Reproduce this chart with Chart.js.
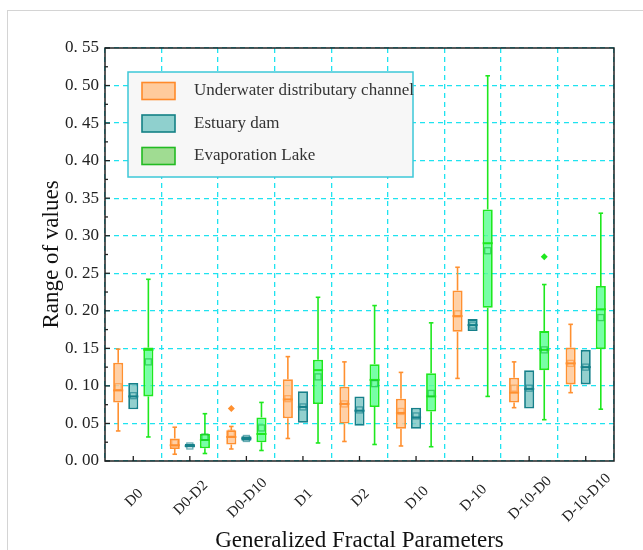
<!DOCTYPE html>
<html>
<head>
<meta charset="utf-8">
<script src="https://cdn.jsdelivr.net/npm/chart.js@4/dist/chart.umd.min.js"></script>
<style>
  html, body { margin: 0; padding: 0; background: #fff; }
  #wrap { position: relative; width: 643px; height: 550px; }
  #edge { position: absolute; left: 7px; top: 10px; right: 0; bottom: 0;
          border-left: 1.5px solid #d4d4d4; border-top: 1.5px solid #d4d4d4; }
  canvas { position: absolute; left: 0; top: 0; }
</style>
</head>
<body>
<div id="wrap">
  <div id="edge"></div>
  <canvas id="chart" width="643" height="550"></canvas>
</div>
<script>
// ── Data ─────────────────────────────────────────────────────────────────────

const CATEGORIES = ['D0', 'D0-D2', 'D0-D10', 'D1', 'D2', 'D10', 'D-10', 'D-10-D0', 'D-10-D10'];
const SERIES_NAMES = ['Underwater distributary channel', 'Estuary dam', 'Evaporation Lake'];
const Y_TICKS = [0, 0.05, 0.10, 0.15, 0.20, 0.25, 0.30, 0.35, 0.40, 0.45, 0.50, 0.55];

// Underwater distributary channel
const udcMin    = [0.040, 0.009, 0.016, 0.030, 0.026, 0.020, 0.110, 0.071, 0.091];
const udcQ1     = [0.078, 0.016, 0.022, 0.057, 0.050, 0.043, 0.172, 0.078, 0.102];
const udcMedian = [0.094, 0.021, 0.032, 0.082, 0.076, 0.064, 0.193, 0.091, 0.130];
const udcMean   = [0.099, 0.024, 0.037, 0.083, 0.076, 0.066, 0.196, 0.097, 0.130];
const udcQ3     = [0.131, 0.030, 0.041, 0.109, 0.099, 0.083, 0.227, 0.111, 0.151];
const udcMax    = [0.149, 0.045, 0.046, 0.139, 0.132, 0.118, 0.258, 0.132, 0.182];
const udcOut    = [[], [], [0.070], [], [], [], [], [], []];

// Estuary dam
const edMin    = [0.069, 0.018, 0.027, 0.051, 0.047, 0.043, 0.173, 0.070, 0.102];
const edQ1     = [0.069, 0.018, 0.027, 0.051, 0.047, 0.043, 0.173, 0.070, 0.102];
const edMedian = [0.086, 0.020, 0.030, 0.072, 0.067, 0.058, 0.181, 0.096, 0.125];
const edMean   = [0.087, 0.020, 0.030, 0.072, 0.068, 0.060, 0.181, 0.097, 0.125];
const edQ3     = [0.104, 0.023, 0.033, 0.093, 0.086, 0.071, 0.189, 0.121, 0.148];
const edMax    = [0.104, 0.023, 0.033, 0.093, 0.086, 0.071, 0.189, 0.121, 0.148];
const edOut    = [[], [], [], [], [], [], [], [], []];

// Evaporation Lake
const elMin    = [0.032, 0.010, 0.014, 0.024, 0.022, 0.019, 0.086, 0.055, 0.069];
const elQ1     = [0.086, 0.017, 0.025, 0.076, 0.072, 0.066, 0.204, 0.121, 0.149];
const elMedian = [0.148, 0.028, 0.036, 0.121, 0.108, 0.086, 0.290, 0.148, 0.202];
const elMean   = [0.132, 0.032, 0.044, 0.112, 0.103, 0.090, 0.280, 0.148, 0.191];
const elQ3     = [0.151, 0.036, 0.058, 0.135, 0.129, 0.117, 0.335, 0.173, 0.233];
const elMax    = [0.242, 0.063, 0.078, 0.218, 0.207, 0.184, 0.513, 0.235, 0.330];
const elOut    = [[], [], [], [], [], [], [], [0.272], []];

// ── Styles ───────────────────────────────────────────────────────────────────

const SERIF = '"Liberation Serif", "DejaVu Serif", serif';
const GRID_COLOR = '#1fe3f0';

const STYLES = [
  { fill: 'rgba(255,200,150,0.85)', stroke: '#ff9030', mean: 'rgba(255,144,48,0.6)',
    legendFill: '#ffcb9c', legendStroke: '#ff8a2a' },
  { fill: 'rgba(128,200,198,0.85)', stroke: '#16808a', mean: 'rgba(22,128,138,0.65)',
    legendFill: '#8fd0ce', legendStroke: '#138085' },
  { fill: 'rgba(95,255,150,0.85)', stroke: '#1ee81e', mean: 'rgba(20,190,60,0.65)',
    legendFill: '#a0dc92', legendStroke: '#22bb22' },
];

const STATS = [
  { min: udcMin, q1: udcQ1, median: udcMedian, mean: udcMean, q3: udcQ3, max: udcMax, out: udcOut },
  { min: edMin, q1: edQ1, median: edMedian, mean: edMean, q3: edQ3, max: edMax, out: edOut },
  { min: elMin, q1: elQ1, median: elMedian, mean: elMean, q3: elQ3, max: elMax, out: elOut },
];

// ── Plugins ──────────────────────────────────────────────────────────────────

// whiskers, medians, means, outliers on top of the floating bars
const boxExtras = {
  id: 'boxExtras',
  afterDatasetsDraw(chart) {
    const ctx = chart.ctx;
    const y = chart.scales.y;
    ctx.save();
    STATS.forEach((s, d) => {
      const st = STYLES[d];
      const meta = chart.getDatasetMeta(d);
      meta.data.forEach((bar, i) => {
        const x = bar.x;
        const w = bar.width;
        const cap = w * 0.45;
        ctx.strokeStyle = st.stroke;
        ctx.lineWidth = 1.6;
        // whiskers
        [[s.q3[i], s.max[i]], [s.q1[i], s.min[i]]].forEach(([a, b]) => {
          if (Math.abs(a - b) < 1e-9) return;
          ctx.beginPath();
          ctx.moveTo(x, y.getPixelForValue(a));
          ctx.lineTo(x, y.getPixelForValue(b));
          ctx.stroke();
          ctx.beginPath();
          ctx.moveTo(x - cap / 2, y.getPixelForValue(b));
          ctx.lineTo(x + cap / 2, y.getPixelForValue(b));
          ctx.stroke();
        });
        // median
        const my = y.getPixelForValue(s.median[i]);
        ctx.lineWidth = 2;
        ctx.beginPath();
        ctx.moveTo(x - w / 2, my);
        ctx.lineTo(x + w / 2, my);
        ctx.stroke();
        // mean square
        const ay = y.getPixelForValue(s.mean[i]);
        ctx.strokeStyle = st.mean;
        ctx.lineWidth = 1.3;
        ctx.strokeRect(x - 3, ay - 3, 6, 6);
        // outliers
        ctx.fillStyle = st.stroke;
        s.out[i].forEach(v => {
          const oy = y.getPixelForValue(v);
          ctx.beginPath();
          ctx.moveTo(x, oy - 3.5);
          ctx.lineTo(x + 3.5, oy);
          ctx.lineTo(x, oy + 3.5);
          ctx.lineTo(x - 3.5, oy);
          ctx.closePath();
          ctx.fill();
        });
      });
    });
    ctx.restore();
  },
};

// black frame, inward ticks, centred rotated category labels and the boxed legend
const frameAndLegend = {
  id: 'frameAndLegend',
  afterDraw(chart) {
    const ctx = chart.ctx;
    const { left, right, top, bottom } = chart.chartArea;
    const y = chart.scales.y;
    const x = chart.scales.x;
    ctx.save();

    ctx.strokeStyle = '#222';
    ctx.lineWidth = 1.5;
    ctx.strokeRect(left, top, right - left, bottom - top);

    ctx.lineWidth = 1.3;
    Y_TICKS.forEach(v => {
      const py = y.getPixelForValue(v);
      ctx.beginPath();
      ctx.moveTo(left, py);
      ctx.lineTo(left + 5, py);
      ctx.stroke();
      if (v < 0.55) {
        const my = y.getPixelForValue(v + 0.025);
        ctx.beginPath();
        ctx.moveTo(left, my);
        ctx.lineTo(left + 3, my);
        ctx.stroke();
      }
    });

    ctx.font = '15px ' + SERIF;
    ctx.textAlign = 'center';
    ctx.textBaseline = 'middle';
    ctx.fillStyle = '#222';
    chart.data.labels.forEach((c, i) => {
      const px = x.getPixelForValue(i);
      ctx.beginPath();
      ctx.moveTo(px, bottom);
      ctx.lineTo(px, bottom - 5);
      ctx.stroke();
      ctx.save();
      ctx.translate(px + 1, bottom + 37);
      ctx.rotate(-Math.PI / 4);
      ctx.fillText(c, 0, 0);
      ctx.restore();
    });

    // legend box
    const lx = left + 23, ly = top + 24, lw = 285, lh = 105;
    ctx.fillStyle = '#f7f7f7';
    ctx.fillRect(lx, ly, lw, lh);
    ctx.strokeStyle = '#3cc8d8';
    ctx.lineWidth = 1.5;
    ctx.strokeRect(lx, ly, lw, lh);
    ctx.font = '17px ' + SERIF;
    ctx.textAlign = 'left';
    ctx.textBaseline = 'middle';
    chart.data.datasets.forEach((ds, d) => {
      const rowY = ly + 19 + d * 32.5;
      ctx.fillStyle = STYLES[d].legendFill;
      ctx.fillRect(lx + 14, rowY - 8.5, 33, 17);
      ctx.strokeStyle = STYLES[d].legendStroke;
      ctx.lineWidth = 1.6;
      ctx.strokeRect(lx + 14, rowY - 8.5, 33, 17);
      ctx.fillStyle = '#333';
      ctx.fillText(ds.label, lx + 66, rowY);
    });
    ctx.restore();
  },
};

// ── Chart ────────────────────────────────────────────────────────────────────

const datasets = STATS.map((s, d) => ({
  label: SERIES_NAMES[d],
  data: s.q1.map((v, i) => [v, s.q3[i]]),
  backgroundColor: STYLES[d].fill,
  borderColor: STYLES[d].stroke,
  borderWidth: 1.8,
  borderSkipped: false,
  categoryPercentage: 0.8,
  barPercentage: 0.67,
}));

new Chart(document.getElementById('chart').getContext('2d'), {
  type: 'bar',
  data: { labels: CATEGORIES, datasets },
  options: {
    responsive: false,
    animation: false,
    layout: { padding: { top: 48, right: 29, left: 0, bottom: 0 } },
    plugins: { legend: { display: false }, tooltip: { enabled: false } },
    scales: {
      y: {
        min: 0,
        max: 0.55,
        afterFit: s => { s.width = 105; },
        afterBuildTicks: s => { s.ticks = Y_TICKS.map(v => ({ value: v })); },
        border: { display: false, dash: [5, 4] },
        grid: { color: GRID_COLOR, lineWidth: 1.3, drawTicks: false },
        ticks: {
          padding: 6,
          color: '#222',
          font: { family: SERIF, size: 17 },
          callback: v => v.toFixed(2).replace('.', '. '),
        },
        title: {
          display: true,
          text: 'Range of values',
          color: '#111',
          font: { family: SERIF, size: 23 },
          padding: { top: 38, bottom: 0 },
        },
      },
      x: {
        afterFit: s => { s.height = 89; },
        border: { display: false, dash: [5, 4] },
        grid: { color: GRID_COLOR, lineWidth: 1.3, drawTicks: false, offset: true },
        ticks: { display: false },
        title: {
          display: true,
          text: 'Generalized Fractal Parameters',
          color: '#111',
          font: { family: SERIF, size: 23 },
          padding: { top: 0, bottom: -5 },
        },
      },
    },
  },
  plugins: [boxExtras, frameAndLegend],
});
</script>
</body>
</html>
